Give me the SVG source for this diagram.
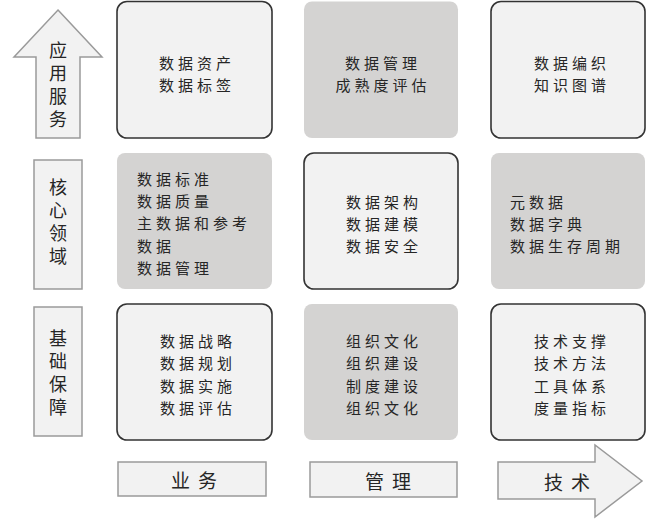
<svg xmlns="http://www.w3.org/2000/svg" width="659" height="519" viewBox="0 0 659 519">
<style>
.light{fill:#f2f2f2;stroke:#333;stroke-width:1.6}
.gray{fill:#d4d3d2;stroke:none}
.lab{fill:#f2f2f2;stroke:#9a9a9a;stroke-width:1.5}
text{font-family:"Noto Sans CJK SC","Noto Sans",sans-serif;fill:#262626}
.t{font-size:15px;letter-spacing:4px;dominant-baseline:central}
.c{text-anchor:middle}
.v{font-size:18px;text-anchor:middle;writing-mode:vertical-rl;letter-spacing:4.7px}
.b{font-size:19px;text-anchor:middle;dominant-baseline:central;letter-spacing:8px}
</style>
<rect width="659" height="519" fill="#fff"/>
<g id="label-app">
<polygon class="lab" points="58,10 102,57 80,57 80,138 36,138 36,57 14,57"/>
<text class="v" x="58" y="87">应用服务</text>
</g>
<g id="label-core">
<rect class="lab" x="34" y="160" width="48" height="129"/>
<text class="v" x="58" y="224">核心领域</text>
</g>
<g id="label-base">
<rect class="lab" x="34" y="307" width="48" height="129"/>
<text class="v" x="58" y="375">基础保障</text>
</g>
<g id="r1c1">
<rect class="light" x="117" y="1.5" width="155" height="136.5" rx="10"/>
<text class="t c" x="197" y="62">数据资产</text>
<text class="t c" x="197" y="84">数据标签</text>
</g>
<g id="r1c2">
<rect class="gray" x="304" y="1.5" width="154" height="136.5" rx="8"/>
<text class="t c" x="383" y="62">数据管理</text>
<text class="t c" x="383" y="84">成熟度评估</text>
</g>
<g id="r1c3">
<rect class="light" x="491" y="1.5" width="154" height="136.5" rx="10"/>
<text class="t c" x="572" y="62">数据编织</text>
<text class="t c" x="572" y="84">知识图谱</text>
</g>
<g id="r2c1">
<rect class="gray" x="117" y="153" width="155" height="136" rx="8"/>
<text class="t" x="137" y="178">数据标准</text>
<text class="t" x="137" y="200">数据质量</text>
<text class="t" x="137" y="222">主数据和参考</text>
<text class="t" x="137" y="245">数据</text>
<text class="t" x="137" y="267">数据管理</text>
</g>
<g id="r2c2">
<rect class="light" x="304" y="153" width="154" height="136" rx="10"/>
<text class="t c" x="384" y="201">数据架构</text>
<text class="t c" x="384" y="223">数据建模</text>
<text class="t c" x="384" y="245">数据安全</text>
</g>
<g id="r2c3">
<rect class="gray" x="491" y="153" width="154" height="136" rx="8"/>
<text class="t" x="510" y="201">元数据</text>
<text class="t" x="510" y="223">数据字典</text>
<text class="t" x="510" y="245">数据生存周期</text>
</g>
<g id="r3c1">
<rect class="light" x="117" y="304" width="155" height="136" rx="10"/>
<text class="t c" x="198" y="340">数据战略</text>
<text class="t c" x="198" y="362">数据规划</text>
<text class="t c" x="198" y="385">数据实施</text>
<text class="t c" x="198" y="407">数据评估</text>
</g>
<g id="r3c2">
<rect class="gray" x="304" y="304" width="154" height="136" rx="8"/>
<text class="t c" x="384" y="340">组织文化</text>
<text class="t c" x="384" y="362">组织建设</text>
<text class="t c" x="384" y="385">制度建设</text>
<text class="t c" x="384" y="407">组织文化</text>
</g>
<g id="r3c3">
<rect class="light" x="491" y="304" width="154" height="136" rx="10"/>
<text class="t c" x="572" y="340">技术支撑</text>
<text class="t c" x="572" y="362">技术方法</text>
<text class="t c" x="572" y="385">工具体系</text>
<text class="t c" x="572" y="407">度量指标</text>
</g>
<g id="label-biz">
<rect class="lab" x="118" y="462" width="148" height="34"/>
<text class="b" x="198" y="479">业务</text>
</g>
<g id="label-mgmt">
<rect class="lab" x="310" y="462" width="147" height="35"/>
<text class="b" x="392" y="480">管理</text>
</g>
<g id="label-tech">
<polygon class="lab" points="498,462 595,462 595,445 642,481 595,517 595,499 498,499"/>
<text class="b" x="571" y="481">技术</text>
</g>
<g id="connectors"></g>
</svg>
